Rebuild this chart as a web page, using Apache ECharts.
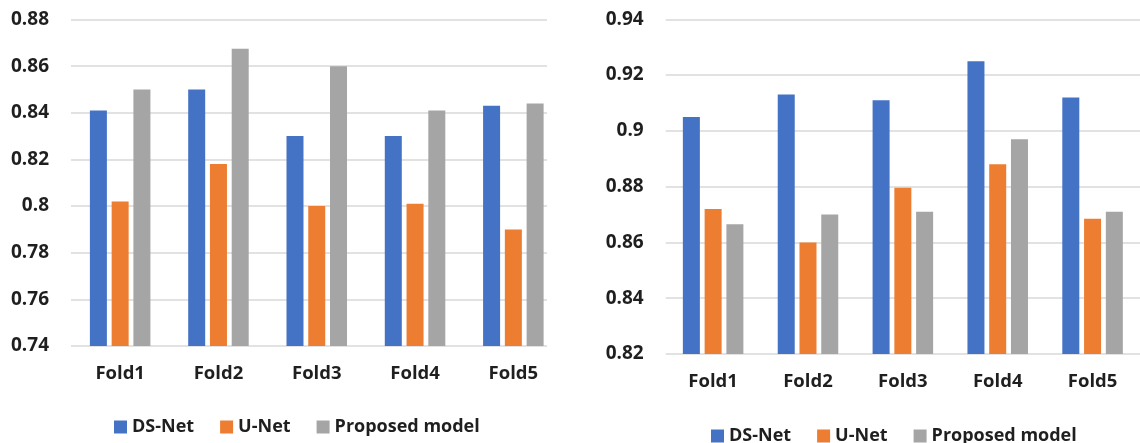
<!DOCTYPE html>
<html>
<head>
<meta charset="utf-8">
<script src="https://cdn.jsdelivr.net/npm/echarts@6/dist/echarts.min.js"></script>
<style>
html,body{margin:0;padding:0;background:#fff;}
#chart{width:1140px;height:443px;}
</style>
</head>
<body>
<div id="chart"></div>
<script>
const categories = ['Fold1', 'Fold2', 'Fold3', 'Fold4', 'Fold5'];
const seriesNames = ['DS-Net', 'U-Net', 'Proposed model'];

// Left chart
const leftDSNet = [0.841, 0.850, 0.830, 0.830, 0.843];
const leftUNet = [0.802, 0.818, 0.800, 0.801, 0.790];
const leftProposed = [0.850, 0.8675, 0.860, 0.841, 0.844];
const leftTicks = { min: 0.74, max: 0.88, interval: 0.02 };

// Right chart
const rightDSNet = [0.905, 0.913, 0.911, 0.925, 0.912];
const rightUNet = [0.872, 0.860, 0.8796, 0.888, 0.8685];
const rightProposed = [0.8665, 0.870, 0.871, 0.897, 0.871];
const rightTicks = { min: 0.82, max: 0.94, interval: 0.02 };

const colors = ['#4472C4', '#ED7D31', '#A5A5A5'];
const FONT = '"Open Sans"';
const TXT = '#1f1f1f';

function fmt(v) {
  return String(parseFloat(v.toFixed(2)));
}

function xAxis(gridIndex) {
  return {
    type: 'category', gridIndex: gridIndex, data: categories,
    axisLine: { show: false }, axisTick: { show: false },
    axisLabel: { color: TXT, fontFamily: FONT, fontWeight: 700, fontSize: 18.5, margin: 18 }
  };
}
function yAxis(gridIndex, t) {
  return {
    type: 'value', gridIndex: gridIndex, min: t.min, max: t.max, interval: t.interval,
    axisLine: { show: false }, axisTick: { show: false },
    splitLine: { lineStyle: { color: '#D9D9D9', width: 1.5 } },
    axisLabel: { color: TXT, fontFamily: FONT, fontWeight: 700, fontSize: 19, margin: 22, formatter: fmt }
  };
}
function bars(idx, data) {
  return data.map((d, i) => ({
    name: seriesNames[i], type: 'bar', xAxisIndex: idx, yAxisIndex: idx,
    data: d, barWidth: 17, barGap: '28%',
    itemStyle: { color: colors[i] }
  }));
}
function legend(x, y) {
  return {
    data: seriesNames, left: x, top: y, itemWidth: 13, itemHeight: 13, itemGap: 26,
    icon: 'rect',
    textStyle: { color: TXT, fontFamily: FONT, fontWeight: 700, fontSize: 18 }
  };
}

const chart = echarts.init(document.getElementById('chart'), null, { renderer: 'canvas' });
chart.setOption({
  animation: false,
  backgroundColor: '#ffffff',
  color: colors,
  grid: [
    { left: 71, top: 19.5, width: 491.5, height: 326.5 },
    { left: 665.7, top: 19.3, width: 496.5, height: 334.7 }
  ],
  xAxis: [xAxis(0), xAxis(1)],
  yAxis: [yAxis(0, leftTicks), yAxis(1, rightTicks)],
  legend: [legend(109, 413), legend(706, 422)],
  series: [
    ...bars(0, [leftDSNet, leftUNet, leftProposed]),
    ...bars(1, [rightDSNet, rightUNet, rightProposed])
  ],
  graphic: [
    { type: 'rect', left: 547, top: 0, z: 100, shape: { width: 50, height: 352 }, style: { fill: '#ffffff' } }
  ]
});
</script>
</body>
</html>
